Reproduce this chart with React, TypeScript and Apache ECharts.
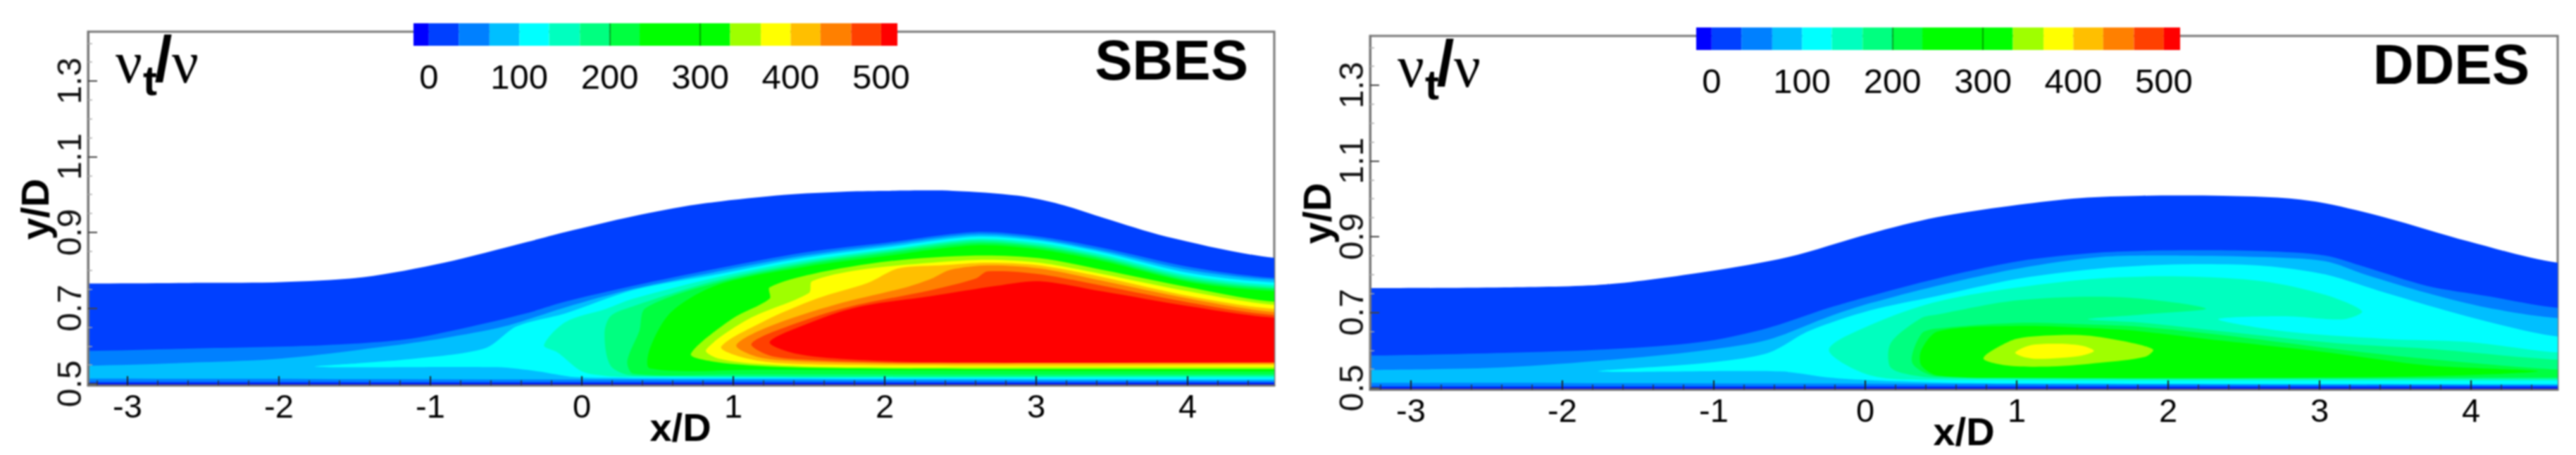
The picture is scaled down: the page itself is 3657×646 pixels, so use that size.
import React, { useEffect, useRef } from "react";
import * as echarts from "echarts";

type P = [number, number];
const SANS = '"Liberation Sans", Arial, sans-serif';
const SERIF = '"Liberation Serif", serif';

const xMajor = [-3, -2, -1, 0, 1, 2, 3, 4];
const xMinor = [-3.2, -2.8, -2.6, -2.4, -2.2, -1.8, -1.6, -1.4, -1.2, -0.8, -0.6, -0.4, -0.2, 0.2, 0.4, 0.6, 0.8, 1.2, 1.4, 1.6, 1.8, 2.2, 2.4, 2.6, 2.8, 3.2, 3.4, 3.6, 3.8, 4.2, 4.4];
const yMajor = [0.5, 0.7, 0.9, 1.1, 1.3];
const yMinor = [0.55, 0.6, 0.65, 0.75, 0.8, 0.85, 0.95, 1.0, 1.05, 1.15, 1.2, 1.25, 1.35, 1.4];
const barLabels = [0, 100, 200, 300, 400, 500];
const barDarkMarks = [200, 300];
const barEdges = [-17, 0, 33, 67, 100, 133, 167, 200, 233, 333, 367, 400, 433, 467, 500, 518];
const barColors = ["#0000ff", "#0040ff", "#0080ff", "#00bfff", "#00ffff", "#00ffbf", "#00ff80", "#00ff40", "#00ff00", "#9fff00", "#ffff00", "#ffbf00", "#ff8000", "#ff4000", "#ff0000"];

// SBES contour regions (x/D, y/D), one per level
const sbes0: P[] = [[-3.26,0.765],[-2.51,0.767],[-1.98,0.769],[-1.44,0.782],[-0.91,0.82],[-0.37,0.874],[-0.11,0.901],[0.34,0.943],[0.76,0.974],[1.33,0.999],[1.75,1.008],[2.03,1.01],[2.45,1.01],[2.88,0.997],[3.16,0.974],[3.44,0.939],[3.86,0.889],[4.57,0.833],[4.57,0.49],[-3.26,0.49]];
const sbes33: P[] = [[-3.26,0.587],[-2.51,0.594],[-1.71,0.602],[-1.17,0.617],[-0.77,0.648],[-0.37,0.686],[-0.11,0.717],[0.34,0.759],[0.9,0.805],[1.47,0.847],[2.03,0.874],[2.6,0.901],[3.02,0.889],[3.44,0.859],[4.01,0.809],[4.57,0.78],[4.57,0.504],[-3.26,0.505]];
const sbes67: P[] = [[-3.26,0.548],[-2.51,0.557],[-1.98,0.567],[-1.31,0.598],[-0.91,0.621],[-0.51,0.652],[-0.11,0.702],[0.34,0.751],[0.9,0.797],[1.47,0.839],[2.03,0.868],[2.6,0.895],[3.02,0.883],[3.44,0.852],[4.01,0.801],[4.57,0.775],[4.57,0.508],[-3.26,0.514]];
const sbes100: P[] = [[-1.76,0.545],[-1.17,0.564],[-0.64,0.594],[-0.43,0.652],[-0.11,0.686],[0.34,0.748],[0.9,0.79],[1.47,0.833],[2.03,0.862],[2.6,0.889],[3.02,0.878],[3.44,0.847],[4.01,0.793],[4.57,0.768],[4.57,0.512],[0.34,0.515],[-0.05,0.518],[-0.29,0.533],[-0.56,0.544]];
const sbes133: P[] = [[-0.25,0.602],[-0.11,0.663],[0.16,0.698],[0.34,0.725],[0.9,0.782],[1.47,0.826],[2.03,0.856],[2.6,0.883],[3.02,0.872],[3.44,0.841],[4.01,0.786],[4.57,0.761],[4.57,0.517],[0.34,0.518],[0.16,0.521],[0,0.533],[-0.16,0.583]];
const sbes167: P[] = [[0.15,0.633],[0.19,0.679],[0.34,0.705],[0.9,0.774],[1.47,0.82],[2.03,0.851],[2.6,0.878],[3.02,0.866],[3.44,0.835],[4.01,0.78],[4.57,0.755],[4.57,0.521],[0.34,0.522],[0.19,0.548]];
const sbes200: P[] = [[0.3,0.56],[0.38,0.64],[0.42,0.7],[0.9,0.768],[1.47,0.815],[2.03,0.846],[2.6,0.872],[3.02,0.861],[3.44,0.83],[4.01,0.774],[4.57,0.751],[4.57,0.525],[1,0.525],[0.34,0.527]];
const sbes233: P[] = [[0.45,0.594],[0.59,0.69],[0.9,0.762],[1.47,0.809],[2.03,0.839],[2.6,0.866],[3.02,0.855],[3.44,0.824],[4.01,0.769],[4.57,0.745],[4.57,0.533],[1.19,0.537],[0.45,0.541]];
const sbes333: P[] = [[0.72,0.579],[0.99,0.671],[1.24,0.725],[1.24,0.755],[1.52,0.79],[2.03,0.824],[2.6,0.839],[3.02,0.832],[3.44,0.801],[4.01,0.755],[4.57,0.717],[4.57,0.539],[3.16,0.539],[1.75,0.541],[1.19,0.547],[0.85,0.56]];
const sbes367: P[] = [[0.82,0.59],[1.1,0.671],[1.5,0.74],[1.52,0.771],[1.83,0.801],[2.31,0.82],[2.68,0.828],[3.02,0.82],[3.44,0.79],[4.01,0.744],[4.57,0.709],[4.57,0.544],[3.16,0.544],[1.75,0.544],[1.19,0.552],[0.9,0.567]];
const sbes400: P[] = [[0.92,0.598],[1.19,0.663],[1.55,0.725],[1.89,0.767],[2.09,0.805],[2.37,0.813],[2.68,0.82],[3.02,0.813],[3.44,0.782],[4.01,0.732],[4.57,0.698],[4.57,0.55],[3.16,0.548],[1.75,0.55],[1.27,0.556],[1.05,0.571]];
const sbes433: P[] = [[1.02,0.602],[1.24,0.652],[1.67,0.709],[2.14,0.755],[2.31,0.778],[2.43,0.801],[2.68,0.813],[3.02,0.805],[3.44,0.772],[4.01,0.725],[4.57,0.69],[4.57,0.554],[3.16,0.554],[2.03,0.554],[1.41,0.56],[1.16,0.571]];
const sbes467: P[] = [[1.12,0.606],[1.36,0.652],[1.75,0.702],[2.31,0.748],[2.6,0.778],[2.68,0.797],[3.02,0.79],[3.44,0.759],[4.01,0.715],[4.57,0.682],[4.57,0.556],[3.16,0.556],[2.03,0.556],[1.47,0.564],[1.24,0.575]];
const sbes500: P[] = [[1.24,0.61],[1.47,0.656],[1.81,0.702],[2.31,0.732],[2.74,0.759],[3.02,0.771],[3.44,0.744],[4.01,0.705],[4.57,0.675],[4.57,0.557],[3.16,0.556],[2.31,0.557],[1.75,0.565],[1.41,0.58]];

// DDES contour regions (x/D, y/D), one per level
const ddes0: P[] = [[-3.27,0.764],[-2.38,0.766],[-1.71,0.774],[-1.04,0.808],[-0.51,0.846],[0.03,0.908],[0.47,0.951],[1.01,0.984],[1.42,1.002],[1.82,1.008],[2.36,1.008],[2.77,1.002],[3.04,0.988],[3.44,0.95],[3.98,0.888],[4.58,0.831],[4.58,0.49],[-3.27,0.49]];
const ddes33: P[] = [[-3.27,0.586],[-2.38,0.593],[-1.58,0.605],[-1.04,0.624],[-0.64,0.659],[-0.24,0.712],[0.03,0.743],[0.47,0.789],[1.01,0.835],[1.55,0.858],[2.09,0.864],[2.63,0.862],[3.04,0.85],[3.3,0.82],[3.71,0.77],[4.11,0.743],[4.58,0.712],[4.58,0.505],[-3.27,0.505]];
const ddes67: P[] = [[-3.27,0.548],[-2.38,0.555],[-1.58,0.578],[-1.04,0.601],[-0.64,0.628],[-0.24,0.689],[0.03,0.724],[0.47,0.77],[1.01,0.816],[1.55,0.846],[2.09,0.85],[2.63,0.846],[3.04,0.835],[3.3,0.8],[3.71,0.751],[4.11,0.712],[4.58,0.685],[4.58,0.508],[-3.27,0.514]];
const ddes100: P[] = [[-1.76,0.544],[-1.04,0.567],[-0.64,0.593],[-0.37,0.651],[0.03,0.705],[0.47,0.743],[1.01,0.789],[1.55,0.816],[2.09,0.827],[2.63,0.823],[3.04,0.8],[3.44,0.751],[3.98,0.689],[4.58,0.636],[4.58,0.51],[1,0.512],[0.48,0.515],[0.03,0.521],[-0.24,0.528],[-0.56,0.544]];
const ddes133: P[] = [[-0.24,0.601],[0.03,0.666],[0.47,0.728],[1.01,0.766],[1.55,0.79],[2.09,0.795],[2.63,0.782],[3.04,0.746],[3.28,0.703],[3.16,0.682],[2.77,0.69],[2.33,0.682],[2.77,0.65],[3.44,0.63],[3.98,0.622],[4.58,0.594],[4.58,0.52],[0.48,0.522],[0.03,0.534]];
const ddes167: P[] = [[0.17,0.62],[0.37,0.685],[0.47,0.694],[1.01,0.732],[1.69,0.74],[2.25,0.71],[1.82,0.694],[1.47,0.682],[1.82,0.673],[2.36,0.65],[3.16,0.617],[3.71,0.604],[4.58,0.575],[4.58,0.524],[0.48,0.527],[0.24,0.54],[0.16,0.559]];
const ddes200: P[] = [[0.37,0.643],[0.47,0.657],[1.01,0.672],[1.47,0.668],[1.82,0.662],[2.36,0.64],[3.17,0.6],[3.71,0.577],[4.58,0.549],[4.58,0.528],[0.48,0.531],[0.31,0.567]];
const ddes233: P[] = [[0.37,0.6],[0.48,0.65],[1.01,0.664],[1.47,0.659],[1.82,0.65],[2.36,0.625],[3.04,0.595],[3.71,0.56],[4.44,0.544],[3.5,0.53],[1,0.527],[0.48,0.533],[0.37,0.56]];
const ddes333: P[] = [[0.78,0.579],[0.96,0.625],[1.09,0.636],[1.42,0.64],[1.69,0.625],[1.9,0.602],[1.85,0.583],[1.55,0.567],[1.23,0.557],[0.93,0.56]];
const ddes367: P[] = [[0.99,0.594],[1.09,0.613],[1.28,0.617],[1.44,0.611],[1.51,0.598],[1.42,0.585],[1.15,0.577],[1.04,0.583]];

const wallDepth: P[] = [[-3.3, 0.501], [4.6, 0.501], [4.6, 0.49], [-3.3, 0.49]];

const sbesRegions: [P[], string][] = [
  [sbes0, "#0040ff"], [sbes33, "#0080ff"], [sbes67, "#00bfff"], [sbes100, "#00ffff"], [sbes133, "#00ffbf"],
  [sbes167, "#00ff80"], [sbes200, "#00ff40"], [sbes233, "#00ff00"], [sbes333, "#9fff00"], [sbes367, "#ffff00"],
  [sbes400, "#ffbf00"], [sbes433, "#ff8000"], [sbes467, "#ff4000"], [sbes500, "#ff0000"],
];
const ddesRegions: [P[], string][] = [
  [ddes0, "#0040ff"], [ddes33, "#0080ff"], [ddes67, "#00bfff"], [ddes100, "#00ffff"], [ddes133, "#00ffbf"],
  [ddes167, "#00ff80"], [ddes200, "#00ff40"], [ddes233, "#00ff00"], [ddes333, "#9fff00"], [ddes367, "#ffff00"],
];

const FRAME = "#777777";

// Carry regions that reach the plot's side walls past them, so that the curve smoothing rounds its corners off-plot.
function pastWalls(points: P[]): P[] {
  const out: P[] = [];
  const n = points.length;
  points.forEach((p, i) => {
    const next = points[(i + 1) % n];
    out.push(p);
    if (p[0] > 4.5 && next[0] > 4.5) { out.push([5.2, p[1]], [5.2, next[1]]); }
    if (p[0] < -3.2 && next[0] < -3.2) { out.push([-3.9, p[1]], [-3.9, next[1]]); }
  });
  return out;
}

function buildOption() {
  const grids: any[] = [];
  const xAxes: any[] = [];
  const yAxes: any[] = [];
  const series: any[] = [];
  const graphics: any[] = [];

  const panel = (g: { left: number; right: number; top: number; bottom: number; zeroX: number; halfY: number; barLeft: number; barTop: number; dx: number; dy: number; regions: [P[], string][]; title: string; titleX: number; titleY: number; xNameX: number; }) => {
    const gi = grids.length;
    const xi = xAxes.length;
    const yi = yAxes.length;
    const pxX = 215;
    const pxY = 537.5;
    grids.push({ left: g.left, top: g.top, width: g.right - g.left, height: g.bottom - g.top, show: true, borderColor: FRAME, borderWidth: 3, backgroundColor: "transparent", z: 0 });
    const xMin = (g.left - g.zeroX) / pxX;
    const xMax = (g.right - g.zeroX) / pxX;
    const yMin = 0.5 - (g.bottom - g.halfY) / pxY;
    const yMax = 0.5 + (g.halfY - g.top) / pxY;
    xAxes.push({
      type: "value", gridIndex: gi, min: xMin, max: xMax, z: 10, splitLine: { show: false }, position: "bottom",
      axisLine: { show: true, onZero: false, lineStyle: { color: FRAME, width: 3 } },
      axisTick: { show: true, inside: true, length: 13, customValues: xMajor, lineStyle: { color: "#222", width: 2 } },
      axisLabel: { show: true, customValues: xMajor, margin: 6, color: "#000", fontFamily: SANS, fontSize: 47, formatter: (v: number) => String(v), hideOverlap: false },
    });
    xAxes.push({
      type: "value", gridIndex: gi, min: xMin, max: xMax, z: 10, splitLine: { show: false }, position: "bottom",
      axisLine: { show: false, onZero: false },
      axisTick: { show: true, inside: true, length: 7, customValues: xMinor, lineStyle: { color: "#333", width: 1.5 } },
      axisLabel: { show: false },
    });
    yAxes.push({
      type: "value", gridIndex: gi, min: yMin, max: yMax, z: 10, splitLine: { show: false }, position: "left",
      axisLine: { show: true, onZero: false, lineStyle: { color: FRAME, width: 3 } },
      axisTick: { show: true, inside: true, length: 13, customValues: yMajor, lineStyle: { color: "#444", width: 2 } },
      axisLabel: { show: true, customValues: yMajor, rotate: 90, margin: 3, color: "#111", fontFamily: SANS, fontSize: 48, formatter: (v: number) => v.toFixed(1), hideOverlap: false },
    });
    yAxes.push({
      type: "value", gridIndex: gi, min: yMin, max: yMax, z: 10, splitLine: { show: false }, position: "left",
      axisLine: { show: false, onZero: false },
      axisTick: { show: true, inside: true, length: 6, customValues: yMinor, lineStyle: { color: "#aaa", width: 1.5 } },
      axisLabel: { show: false },
    });
    const drawn: [P[], string][] = [...g.regions.map(([pts, c]) => [pastWalls(pts), c] as [P[], string])];
    series.push({
      type: "custom", name: g.title, xAxisIndex: xi, yAxisIndex: yi, clip: true, z: 2, silent: true,
      data: drawn.map((_, i) => [i]),
      renderItem: (_p: any, api: any) => {
        const r = drawn[api.value(0)];
        return { type: "polygon", shape: { points: r[0].map((pt) => api.coord(pt)), smooth: 0.3 }, style: { fill: r[1], stroke: "none" } };
      },
    });
    series.push({
      type: "custom", name: g.title + " wall", xAxisIndex: xi, yAxisIndex: yi, clip: true, z: 3, silent: true,
      data: [[0]],
      renderItem: (_p: any, api: any) => ({ type: "polygon", shape: { points: wallDepth.map((pt) => api.coord(pt)) }, style: { fill: "#0000e0", stroke: "none" } }),
    });

    // colour bar
    const bgi = grids.length;
    const bxi = xAxes.length;
    const byi = yAxes.length;
    grids.push({ left: g.barLeft, top: g.barTop, width: 687, height: 32, z: 5 });
    xAxes.push({
      type: "value", gridIndex: bgi, min: barEdges[0], max: barEdges[barEdges.length - 1], z: 12, splitLine: { show: false }, position: "bottom",
      axisLine: { show: false },
      axisTick: { show: true, inside: true, length: 32, customValues: barDarkMarks, lineStyle: { color: "rgba(0,90,0,0.75)", width: 1.5 } },
      axisLabel: { show: true, customValues: barLabels, margin: 19, color: "#000", fontFamily: SANS, fontSize: 49, hideOverlap: false },
    });
    yAxes.push({ type: "value", gridIndex: bgi, min: 0, max: 1, show: false, splitLine: { show: false } });
    series.push({
      type: "custom", name: g.title + " colour bar", xAxisIndex: bxi, yAxisIndex: byi, clip: false, z: 6, silent: true,
      data: barColors.map((_, i) => [i]),
      renderItem: (_p: any, api: any) => {
        const i = api.value(0);
        const a = api.coord([barEdges[i], 1]);
        const b = api.coord([barEdges[i + 1], 0]);
        return { type: "rect", shape: { x: a[0], y: a[1], width: b[0] - a[0], height: b[1] - a[1] }, style: { fill: barColors[i], stroke: "none" } };
      },
    });

    const t = (text: string, x: number, y: number, font: string, extra: any = {}) =>
      graphics.push({ type: "text", x: x + g.dx, y: y + g.dy, z: 20, style: { text, font, fill: "#000", align: "center", verticalAlign: "middle" }, ...extra });
    graphics.push({ type: "text", x: g.titleX, y: g.titleY, z: 20, style: { text: g.title, font: `bold 80px ${SANS}`, fill: "#000", align: "right", verticalAlign: "middle" } });
    t("ν", 183, 88, `84px ${SERIF}`);
    t("t", 213, 114, `bold 60px ${SANS}`);
    t("/", 232, 84, `bold 90px ${SANS}`);
    t("ν", 263, 88, `84px ${SERIF}`);
    t("y/D", 49, 297, `bold 56px ${SANS}`, { rotation: Math.PI / 2 });
    graphics.push({ type: "text", x: g.xNameX, y: 606 + g.dy, z: 20, style: { text: "x/D", font: `bold 56px ${SANS}`, fill: "#000", align: "center", verticalAlign: "middle" } });
  };

  panel({ left: 125, right: 1809, top: 45, bottom: 547, zeroX: 826, halfY: 545, barLeft: 587, barTop: 33, dx: 0, dy: 0, regions: sbesRegions, title: "SBES", titleX: 1772, titleY: 85, xNameX: 966 });
  panel({ left: 1945, right: 3631, top: 51, bottom: 553, zeroX: 2648, halfY: 551, barLeft: 2408, barTop: 39, dx: 1820, dy: 6, regions: ddesRegions, title: "DDES", titleX: 3591, titleY: 91, xNameX: 2788 });

  return { animation: false, backgroundColor: "#fff", grid: grids, xAxis: xAxes, yAxis: yAxes, series, graphic: { elements: graphics } };
}

export default function App() {
  const ref = useRef<HTMLDivElement>(null);
  useEffect(() => {
    const chart = echarts.init(ref.current!, undefined, { renderer: "svg" });
    chart.setOption(buildOption() as any);
    return () => chart.dispose();
  }, []);
  return <div ref={ref} style={{ position: "fixed", left: 0, top: 0, width: 3657, height: 646, filter: "blur(1px)" }} />;
}
